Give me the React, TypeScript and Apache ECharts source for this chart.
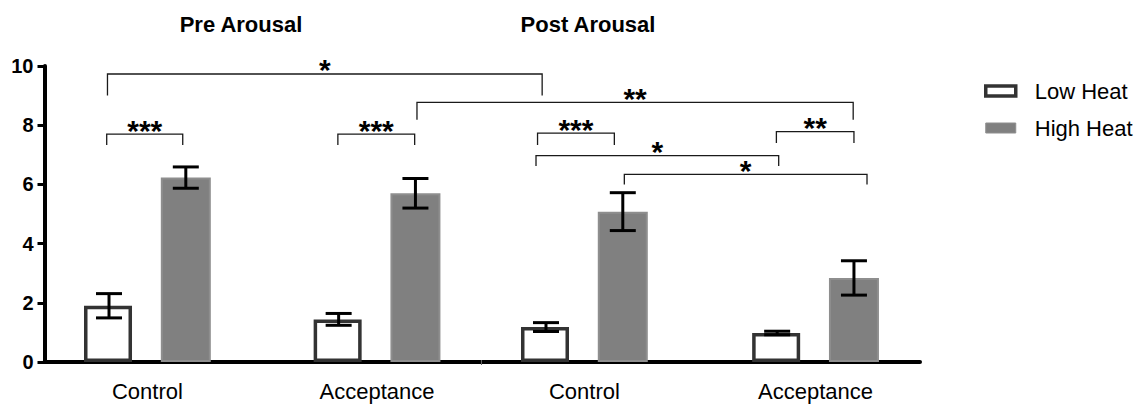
import React, { useEffect, useRef } from 'react';
import * as echarts from 'echarts';

// Group layout on the x value axis
const groupLabels = ['Control', 'Acceptance', 'Control', 'Acceptance'];
const groupCenters = [1.34, 4.33, 7.03, 10.04];
const barOffset = 0.5;
const xMax = 11.4;
const phaseDivider = [5.69];

// Means and SEM per group
const lowHeat = [1.9, 1.44, 1.18, 0.98];
const lowHeatSem = [0.41, 0.2, 0.15, 0.06];
const highHeat = [6.23, 5.7, 5.08, 2.84];
const highHeatSem = [0.36, 0.5, 0.64, 0.58];

const panelTitles = ['Pre Arousal', 'Post Arousal'];
const yMin = 0;
const yMax = 10;
const yInterval = 2;

// Significance brackets: [x1, x2, top, left leg end, right leg end]
const brackets = [
  [0.82, 6.48, 9.73, 9.0, 9.0],
  [0.81, 1.8, 7.7, 7.33, 7.33],
  [3.82, 4.82, 7.7, 7.33, 7.33],
  [4.85, 10.53, 8.77, 8.18, 8.18],
  [6.42, 7.42, 7.73, 7.33, 7.33],
  [9.53, 10.54, 7.78, 7.4, 7.4],
  [6.4, 9.56, 6.97, 6.62, 6.62],
  [7.55, 10.71, 6.34, 6.0, 6.0],
];
const bracketLabels = ['*', '***', '***', '**', '***', '**', '*', '*'];

const FONT = 'Liberation Sans, Arial, sans-serif';

export default function App() {
  const ref = useRef<HTMLDivElement>(null);

  useEffect(() => {
    if (!ref.current) return;
    const chart = echarts.init(ref.current, undefined, { renderer: 'svg' });

    const lowData = groupCenters.map((c, i) => [c - barOffset, lowHeat[i]]);
    const highData = groupCenters.map((c, i) => [c + barOffset, highHeat[i]]);
    const errData = [
      ...groupCenters.map((c, i) => [c - barOffset, lowHeat[i], lowHeatSem[i]]),
      ...groupCenters.map((c, i) => [c + barOffset, highHeat[i], highHeatSem[i]]),
    ];

    const option: any = {
      animation: false,
      backgroundColor: '#fff',
      grid: { left: 44.5, right: 221, top: 66, bottom: 45, containLabel: false },
      xAxis: {
        type: 'value',
        min: 0,
        max: xMax,
        axisLine: { show: true, lineStyle: { color: '#000', width: 4 } },
        axisTick: { show: false },
        axisLabel: { show: false },
        splitLine: { show: false },
      },
      yAxis: {
        type: 'value',
        min: yMin,
        max: yMax,
        interval: yInterval,
        axisLine: { show: true, lineStyle: { color: '#000', width: 4 } },
        axisTick: { show: true, length: 7, lineStyle: { color: '#000', width: 3 } },
        axisLabel: {
          color: '#000',
          fontFamily: FONT,
          fontWeight: 'bold',
          fontSize: 20,
          margin: 11,
        },
        splitLine: { show: false },
      },
      legend: {
        data: [
          { name: 'Low Heat', itemStyle: { color: '#fff', borderColor: '#333', borderWidth: 3.5 } },
          { name: 'High Heat', itemStyle: { color: '#808080', borderColor: '#8e8e8e', borderWidth: 1 } },
        ],
        orient: 'vertical',
        left: 984,
        top: 80,
        padding: 0,
        itemWidth: 30,
        itemHeight: 10,
        itemGap: 15,
        icon: 'rect',
        textStyle: {
          color: '#000',
          fontFamily: FONT,
          fontSize: 22,
          padding: [0, 0, 0, 14],
        },
      },
      graphic: panelTitles.map((t, i) => ({
        type: 'text',
        x: i === 0 ? 241 : 588,
        y: 24,
        style: {
          text: t,
          fill: '#000',
          font: `bold 22px ${FONT}`,
          textAlign: 'center',
          textVerticalAlign: 'middle',
        },
      })),
      series: [
        {
          name: 'Low Heat',
          type: 'bar',
          data: lowData,
          barWidth: 48,
          barGap: '-100%',
          itemStyle: { color: '#fff', borderColor: '#333', borderWidth: 3.5 },
          z: 2,
        },
        {
          name: 'High Heat',
          type: 'bar',
          data: highData,
          barWidth: 50,
          barGap: '-100%',
          itemStyle: { color: '#808080', borderColor: '#8e8e8e', borderWidth: 2 },
          z: 2,
        },
        {
          name: 'sem',
          type: 'custom',
          data: errData,
          z: 5,
          renderItem: (params: any, api: any) => {
            const x = api.value(0);
            const m = api.value(1);
            const e = api.value(2);
            const top = api.coord([x, m + e]);
            const bot = api.coord([x, m - e]);
            const half = 13;
            const style = { stroke: '#000', lineWidth: 3, fill: 'none' };
            return {
              type: 'group',
              children: [
                { type: 'line', shape: { x1: top[0], y1: top[1], x2: bot[0], y2: bot[1] }, style },
                { type: 'line', shape: { x1: top[0] - half, y1: top[1], x2: top[0] + half, y2: top[1] }, style },
                { type: 'line', shape: { x1: bot[0] - half, y1: bot[1], x2: bot[0] + half, y2: bot[1] }, style },
              ],
            };
          },
        },
        {
          name: 'brackets',
          type: 'custom',
          data: brackets,
          z: 6,
          renderItem: (params: any, api: any) => {
            const x1 = api.value(0);
            const x2 = api.value(1);
            const yt = api.value(2);
            const p1 = api.coord([x1, api.value(3)]);
            const p2 = api.coord([x1, yt]);
            const p3 = api.coord([x2, yt]);
            const p4 = api.coord([x2, api.value(4)]);
            return {
              type: 'group',
              children: [
                {
                  type: 'polyline',
                  shape: { points: [p1, p2, p3, p4] },
                  style: { stroke: '#1a1a1a', lineWidth: 1.3, fill: 'none' },
                },
                {
                  type: 'text',
                  x: (p2[0] + p3[0]) / 2,
                  y: p2[1] - 4,
                  style: {
                    text: bracketLabels[params.dataIndex],
                    fill: '#000',
                    font: `bold 30px ${FONT}`,
                    textAlign: 'center',
                    textVerticalAlign: 'middle',
                  },
                },
              ],
            };
          },
        },
        {
          name: 'groupLabels',
          type: 'custom',
          data: groupCenters.map((c) => [c, 0]),
          z: 6,
          renderItem: (params: any, api: any) => {
            const p = api.coord([api.value(0), 0]);
            return {
              type: 'text',
              x: p[0],
              y: p[1] + 29,
              style: {
                text: groupLabels[params.dataIndex],
                fill: '#000',
                font: `22px ${FONT}`,
                textAlign: 'center',
                textVerticalAlign: 'middle',
              },
            };
          },
        },
        {
          name: 'divider',
          type: 'custom',
          data: phaseDivider.map((d) => [d, 0]),
          z: 1,
          renderItem: (params: any, api: any) => {
            const p = api.coord([api.value(0), 0]);
            return {
              type: 'line',
              shape: { x1: p[0], y1: p[1] - 2, x2: p[0], y2: p[1] + 3 },
              style: { stroke: '#666', lineWidth: 1 },
            };
          },
        },
      ],
    };

    chart.setOption(option);
    return () => chart.dispose();
  }, []);

  return (
    <div
      ref={ref}
      style={{ position: 'fixed', left: 0, top: 0, width: 1141, height: 407 }}
    />
  );
}
